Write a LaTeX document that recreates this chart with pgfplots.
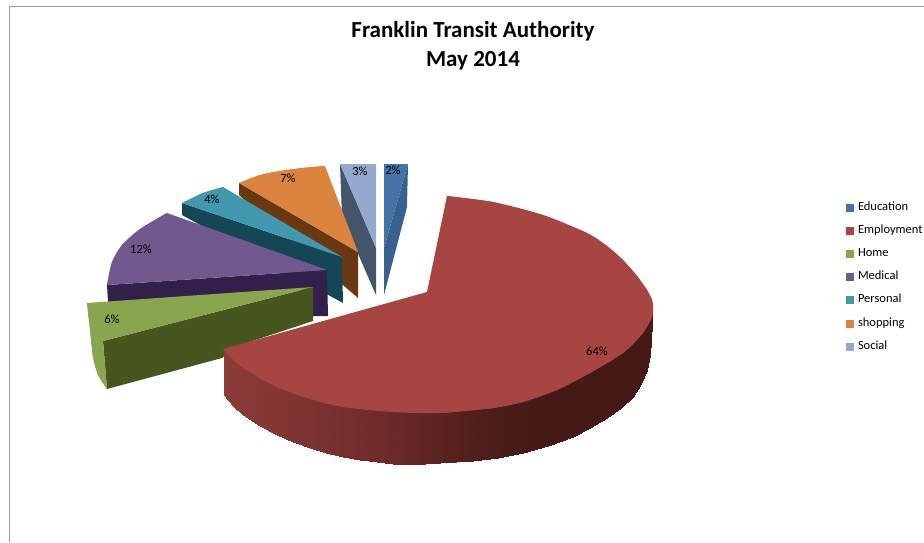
\documentclass[border=0pt]{standalone}
\usepackage{pgfplots}
\pgfplotsset{compat=1.18}
\usepackage{fontspec}
\setmainfont{Carlito}

% Series colours: top faces and darker walls
\definecolor{eduTop}{HTML}{4572A7}
\definecolor{eduWall}{HTML}{39618F}
\definecolor{empTop}{HTML}{A64541}
\definecolor{homeTop}{HTML}{89A54E}
\definecolor{homeWall}{HTML}{47561F}
\definecolor{medTop}{HTML}{71588F}
\definecolor{medWall}{HTML}{33204A}
\definecolor{perTop}{HTML}{4198AF}
\definecolor{perWall}{HTML}{154656}
\definecolor{shoTop}{HTML}{DB843D}
\definecolor{shoWall}{HTML}{693810}
\definecolor{socTop}{HTML}{93A9CF}
\definecolor{socWall}{HTML}{44546A}
\definecolor{frameGrey}{HTML}{9A9A9A}

% Wall of the large slice: upper edge (inside the top face), lower edge, shade
\pgfplotstableread{
x y c
224 350 1.00
224 395 1.00
233 354 0.96
233 406 0.96
243 363 0.92
243 415 0.92
260 373 0.88
260 426 0.88
277 382 0.84
277 435 0.84
293 388 0.79
293 442 0.79
310 394 0.74
310 448 0.74
326 398 0.68
326 453 0.68
343 402 0.62
343 457 0.62
360 404 0.57
360 460 0.57
377 406 0.52
377 462 0.52
393 407 0.45
393 464 0.45
410 408 0.38
410 464 0.38
425 408 0.33
425 464 0.33
440 408 0.28
440 463 0.28
456 407 0.21
456 462 0.21
473 406 0.14
473 461 0.14
498 402 0.08
498 458 0.08
523 397 0.02
523 453 0.02
548 388 0
548 446 0
573 377 0
573 437 0
590 368 0
590 428 0
607 358 0
607 418 0
621 349 0
621 408 0
633 338 0
633 397 0
641 330 0
641 384 0
647 322 0
647 370 0
650 316 0
650 355 0
651 310 0
651 340 0
652 305 0
652 323 0
}\employmentwall

\begin{document}
\begin{tikzpicture}
\useasboundingbox (0,0) rectangle (924pt,542pt);
\begin{axis}[
  at={(0,0)}, anchor=south west,
  scale only axis, width=924pt, height=542pt,
  xmin=0, xmax=924, ymin=0, ymax=542, y dir=reverse,
  hide axis, clip=false,
  colormap={wallred}{rgb255=(69,26,22) rgb255=(110,43,42) rgb255=(140,60,57)},
  legend image code/.code={\path (0pt,0pt) -- (12pt,0pt);\fill[#1] (0pt,-4pt) rectangle (8pt,4pt);},
  legend cell align=left,
  legend style={
    at={(axis cs:846,200)}, anchor=north west,
    draw=none, fill=none, inner sep=0pt, outer sep=0pt,
    font=\fontsize{12.5}{12.5}\selectfont, row sep=8.2pt,
    nodes={inner sep=0pt, text height=10pt, text depth=5pt},
  },
]
% Chart frame
\addplot[draw=frameGrey, line width=1pt, forget plot] coordinates {(9.5,542) (9.5,6.5) (924,6.5)};

% Education
\addplot[fill=eduWall, draw=none, forget plot] coordinates {(408,164) (407,207) (384,295) (384,248)} -- cycle;
\addplot[fill=eduTop, draw=none, forget plot] coordinates {(384,164) (408,164) (384,248)} -- cycle;

% Social
\addplot[fill=socWall, draw=none, forget plot] coordinates {(340,164) (342,217) (376,295) (376,248)} -- cycle;
\addplot[fill=socTop, draw=none, forget plot] coordinates {(340,164) (376,164) (376,248)} -- cycle;

% Shopping: wall, wedge, then the curved rim over the wedge
\addplot[fill=shoWall, draw=none, forget plot] coordinates {(239,183) (239,195) (358,298) (358,252)} -- cycle;
\addplot[fill=shoTop, draw=none, forget plot] coordinates {(239,183) (260,175) (280,171) (302,168) (325,166) (358,252)} -- cycle;
\addplot[fill=shoTop, draw=none, smooth, forget plot] coordinates {(239,183) (260,175) (280,171) (302,168) (325,166)} -- cycle;

% Personal
\addplot[fill=perWall, draw=none, forget plot] coordinates {(182,203) (182,215) (343,303) (342,257)} -- cycle;
\addplot[fill=perTop, draw=none, forget plot] coordinates {(182,203) (203,193) (223,187) (342,257)} -- cycle;
\addplot[fill=perTop, draw=none, smooth, forget plot] coordinates {(182,203) (203,193) (223,187)} -- cycle;

% Medical
\addplot[fill=medWall, draw=none, forget plot] coordinates {(107,285) (108,302) (300,290) (300,316) (328,316) (327,270)} -- cycle;
\addplot[fill=medTop, draw=none, forget plot] coordinates {(167,213) (140,229) (122,245) (112,262) (107,285) (327,270)} -- cycle;
\addplot[fill=medTop, draw=none, smooth, forget plot] coordinates {(167,213) (140,229) (122,245) (112,262) (107,285)} -- cycle;

% Home
\addplot[fill=homeWall, draw=none, forget plot] coordinates {(103,341) (107,389) (222,358) (240,345) (313,321) (313,287)} -- cycle;
\addplot[fill=homeTop, draw=none, forget plot] coordinates {(87,303) (313,287) (103,341) (107,389) (98,375) (93,357) (90,330)} -- cycle;
\addplot[fill=homeTop, draw=none, smooth, forget plot] coordinates {(107,389) (98,375) (93,357) (90,330) (87,303)} -- cycle;

% Employment: shaded wall, then the top face and its rim in two arcs
\addplot[surf, shader=interp, mesh/cols=2, point meta=explicit, forget plot]
  table[x=x, y=y, meta=c] {\employmentwall};
\addplot[fill=empTop, draw=none, forget plot] coordinates {
  (427,292) (447,196) (493,202) (543,215) (587,233) (607,246) (623,260) (637,276)
  (647,290) (652,300) (653,307) (652,317) (643,333) (623,353) (590,373) (557,390)
  (523,402) (493,408) (440,413) (393,412) (343,407) (310,399) (277,387) (243,368) (223,349)} -- cycle;
\addplot[fill=empTop, draw=none, smooth, forget plot] coordinates {
  (447,196) (493,202) (543,215) (587,233) (607,246) (623,260) (637,276) (647,290) (652,300) (653,307)
  (652,317) (643,333) (623,353) (590,373) (557,390) (523,402) (493,408) (440,413)} -- cycle;
\addplot[fill=empTop, draw=none, smooth, forget plot] coordinates {
  (493,408) (440,413) (393,412) (343,407) (310,399) (277,387) (243,368) (223,349)} -- cycle;

% Legend entries
\addlegendimage{draw=none, fill=eduTop}\addlegendentry{Education}
\addlegendimage{draw=none, fill=empTop}\addlegendentry{Employment}
\addlegendimage{draw=none, fill=homeTop}\addlegendentry{Home}
\addlegendimage{draw=none, fill=medTop}\addlegendentry{Medical}
\addlegendimage{draw=none, fill=perTop}\addlegendentry{Personal}
\addlegendimage{draw=none, fill=shoTop}\addlegendentry{shopping}
\addlegendimage{draw=none, fill=socTop}\addlegendentry{Social}

% Title and percentage labels
\node[font=\fontsize{23}{29}\selectfont\bfseries, align=center] at (axis cs:473,46) {Franklin Transit Authority\\May 2014};
\begin{scope}[every node/.style={font=\fontsize{12.5}{12.5}\selectfont, inner sep=0pt}]
\node at (axis cs:393,170) {2\%};
\node at (axis cs:360,171) {3\%};
\node at (axis cs:288,178) {7\%};
\node at (axis cs:212,199) {4\%};
\node at (axis cs:141,249) {12\%};
\node at (axis cs:112,319) {6\%};
\node at (axis cs:597,351) {64\%};
\end{scope}
\end{axis}
\end{tikzpicture}
\end{document}
